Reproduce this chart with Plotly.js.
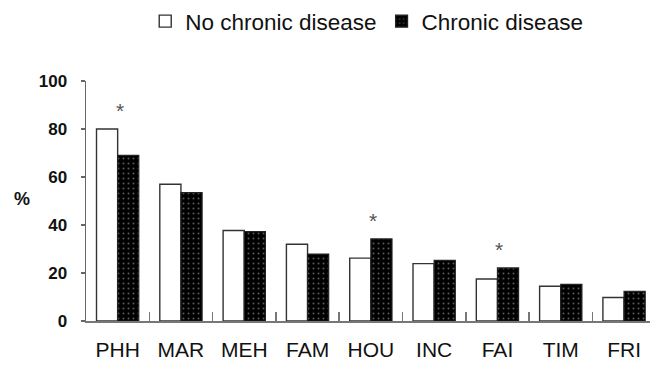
<!DOCTYPE html>
<html>
<head>
<meta charset="utf-8">
<script src="https://cdn.plot.ly/plotly-3.0.1.min.js"></script>
<style>html,body{margin:0;padding:0;background:#fff;}#chart{width:650px;height:374px;}</style>
</head>
<body>
<div id="chart"></div>
<script>
var categories = ["PHH", "MAR", "MEH", "FAM", "HOU", "INC", "FAI", "TIM", "FRI"];
var noChronic = [80, 57, 37.7, 32, 26.2, 23.9, 17.5, 14.5, 9.8];
var chronic = [69, 53.5, 37.2, 27.9, 34.2, 25.3, 22.1, 15.3, 12.4];
var significant = [true, false, false, false, true, false, true, false, false];
var yTicks = [0, 20, 40, 60, 80, 100];

var FONT = "Liberation Sans, Arial, sans-serif";

var traces = [
  {
    type: "bar", name: "No chronic disease", x: categories, y: noChronic,
    marker: {color: "#ffffff", line: {color: "#333333", width: 1.4}}
  },
  {
    type: "bar", name: "Chronic disease", x: categories, y: chronic,
    marker: {color: "#000000", line: {color: "#222222", width: 1.2},
      pattern: {shape: ".", bgcolor: "#000000", fgcolor: "#5a5a5a", size: 5, solidity: 0.12}}
  }
];

var annotations = [];
categories.forEach(function (c, i) {
  if (significant[i]) {
    annotations.push({
      x: c, y: Math.max(noChronic[i], chronic[i]), xref: "x", yref: "y",
      text: "*", showarrow: false, yanchor: "bottom", yshift: 5, xshift: 2,
      font: {family: FONT, size: 21, color: "#555555"}
    });
  }
});
annotations.push({
  x: -0.113, y: 51, xref: "paper", yref: "y", text: "%", showarrow: false,
  xanchor: "center", yanchor: "middle",
  font: {family: FONT, size: 18, color: "#111111", weight: "bold"}
});

var layout = {
  width: 650, height: 374,
  margin: {l: 86, r: 0, t: 81, b: 53, pad: 0},
  paper_bgcolor: "#ffffff", plot_bgcolor: "#ffffff",
  barmode: "group", bargap: 0.332, bargroupgap: 0,
  font: {family: FONT, color: "#111111"},
  showlegend: true,
  legend: {
    orientation: "h", x: 0.105, xanchor: "left", y: 1.0, yref: "container", yanchor: "top",
    font: {family: FONT, size: 22.5, color: "#111111"}, bgcolor: "rgba(0,0,0,0)",
    traceorder: "normal"
  },
  xaxis: {
    type: "category", range: [-0.5, 8.41], showgrid: false, zeroline: false,
    showline: true, linecolor: "#777777", linewidth: 1.5,
    ticks: "inside", tickson: "boundaries", ticklen: 9, tickcolor: "#777777", tickwidth: 1.5,
    tickfont: {family: FONT, size: 21, color: "#111111"}, ticklabelstandoff: 9
  },
  yaxis: {
    range: [0, 100], tickvals: yTicks, ticktext: yTicks.map(String),
    showgrid: false, zeroline: false, showline: true, linecolor: "#666666", linewidth: 1.5,
    ticks: "outside", ticklen: 4, tickcolor: "#666666", tickwidth: 1.2,
    tickfont: {family: FONT, size: 17, color: "#111111", weight: "bold"}, ticklabelstandoff: 10
  },
  annotations: annotations
};

Plotly.newPlot("chart", traces, layout, {staticPlot: true, displayModeBar: false});
</script>
</body>
</html>
